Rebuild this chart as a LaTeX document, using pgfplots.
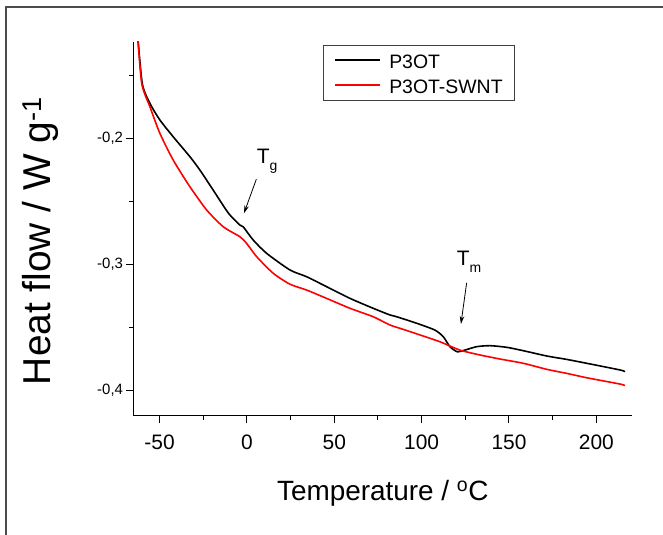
\documentclass[border=0pt]{standalone}
\usepackage{fontspec}
\setmainfont{Liberation Sans}
\usepackage{pgfplots}
\usepackage{pgfplotstable}
\pgfplotsset{compat=1.18}
\usetikzlibrary{arrows.meta}

\pgfplotstableread{
T v
-62.8 -0.1130
-59.9 -0.1560
-55.5 -0.1719
-49.8 -0.1851
-42.2 -0.1984
-32.6 -0.2143
-26.9 -0.2249
-19.3 -0.2408
-10.5 -0.2593
-4.0 -0.2686
-2.1 -0.2700
3.6 -0.2805
11.3 -0.2911
24.6 -0.3043
34.2 -0.3097
45.6 -0.3176
59.0 -0.3269
72.3 -0.3348
81.9 -0.3401
85.7 -0.3415
97.2 -0.3467
107.6 -0.3521
112.4 -0.3574
116.2 -0.3653
120.4 -0.3693
124.8 -0.3680
131.5 -0.3653
139.1 -0.3645
148.7 -0.3658
158.2 -0.3685
171.6 -0.3727
183.0 -0.3754
194.5 -0.3785
213.5 -0.3838
216.4 -0.3851
}\blackdata

\pgfplotstableread{
T v
-62.8 -0.1130
-60.2 -0.1560
-55.5 -0.1746
-49.8 -0.1957
-42.2 -0.2169
-32.6 -0.2382
-23.0 -0.2567
-13.5 -0.2700
-4.0 -0.2779
-0.2 -0.2831
5.6 -0.2938
15.1 -0.3070
24.6 -0.3156
34.2 -0.3203
45.6 -0.3269
59.0 -0.3348
72.3 -0.3415
81.9 -0.3481
87.6 -0.3507
99.1 -0.3560
110.5 -0.3614
121.9 -0.3680
133.4 -0.3719
144.8 -0.3751
158.2 -0.3785
171.6 -0.3833
183.0 -0.3865
194.5 -0.3900
213.5 -0.3950
216.4 -0.3962
}\reddata

\begin{document}
\begin{tikzpicture}
\useasboundingbox (0,0) rectangle (663bp,535bp);
\fill[white] (0,0) rectangle (663bp,535bp);
\draw[line width=1.2bp, black!70] (6bp,0bp) -- (6bp,528bp) -- (663bp,528bp);
\begin{axis}[
  at={(133.5bp,119bp)}, anchor=south west,
  scale only axis, width=498.5bp, height=374bp,
  xmin=-64.9, xmax=220.4, ymin=-0.4204, ymax=-0.1231,
  axis lines*=left,
  axis line style={line width=1bp},
  tick style={line width=1bp, black},
  tick align=outside,
  major tick length=7bp, minor tick length=4bp,
  xtick={-50,0,50,100,150,200},
  xticklabels={-50,0,50,100,150,200},
  minor xtick={-25,25,75,125,175},
  ytick={-0.4,-0.3,-0.2},
  yticklabels={{-0,4},{-0,3},{-0,2}},
  minor ytick={-0.35,-0.25,-0.15},
  x tick label style={font=\fontsize{21}{21}\selectfont, yshift=-8bp},
  y tick label style={font=\fontsize{15}{15}\selectfont},
  xlabel={Temperature / \textsuperscript{o}C},
  xlabel style={font=\fontsize{28}{28}\selectfont, at={(axis description cs:0.5,0)}, anchor=base, yshift=-84bp},
  ylabel={Heat flow / W g\textsuperscript{-1}},
  ylabel style={font=\fontsize{39}{39}\selectfont, at={(axis description cs:-0.1675,0.468)}, anchor=base, rotate=0},
  legend style={at={(axis description cs:0.3795,0.992)}, anchor=north west,
    draw=black!75, font=\fontsize{19.5}{21}\selectfont,
    inner xsep=11.5bp, inner ysep=6.3bp, row sep=7.6bp,
    nodes={inner sep=0pt, text height=17.4bp, text depth=0pt},
    /tikz/every odd column/.append style={column sep=8.3bp},
    cells={anchor=west}},
  legend image code/.code={\draw[#1, line width=1.6bp] (0bp,0bp) -- (45bp,0bp);},
  clip=true,
]
\addplot[black, line width=1.6bp, smooth, tension=0.4] table[x=T, y=v] {\blackdata};
\addlegendentry{P3OT}
\addplot[red, line width=1.6bp, smooth, tension=0.4] table[x=T, y=v] {\reddata};
\addlegendentry{P3OT-SWNT}

\node[anchor=base west, inner sep=0pt, font=\fontsize{21}{21}\selectfont] at (axis cs:5.57,-0.2193) {T\raisebox{-7.5bp}{\fontsize{14}{14}\selectfont g}};
\draw[-{Stealth[length=8bp,width=4.5bp]}, line width=0.8bp] (axis cs:5.42,-0.2321) -- (axis cs:-1.68,-0.2593);
\node[anchor=base west, inner sep=0pt, font=\fontsize{21}{21}\selectfont] at (axis cs:120.04,-0.3004) {T\raisebox{-7.5bp}{\fontsize{14}{14}\selectfont m}};
\draw[-{Stealth[length=8bp,width=4.5bp]}, line width=0.8bp] (axis cs:125.77,-0.3145) -- (axis cs:122.5,-0.3473);
\end{axis}
\end{tikzpicture}
\end{document}
